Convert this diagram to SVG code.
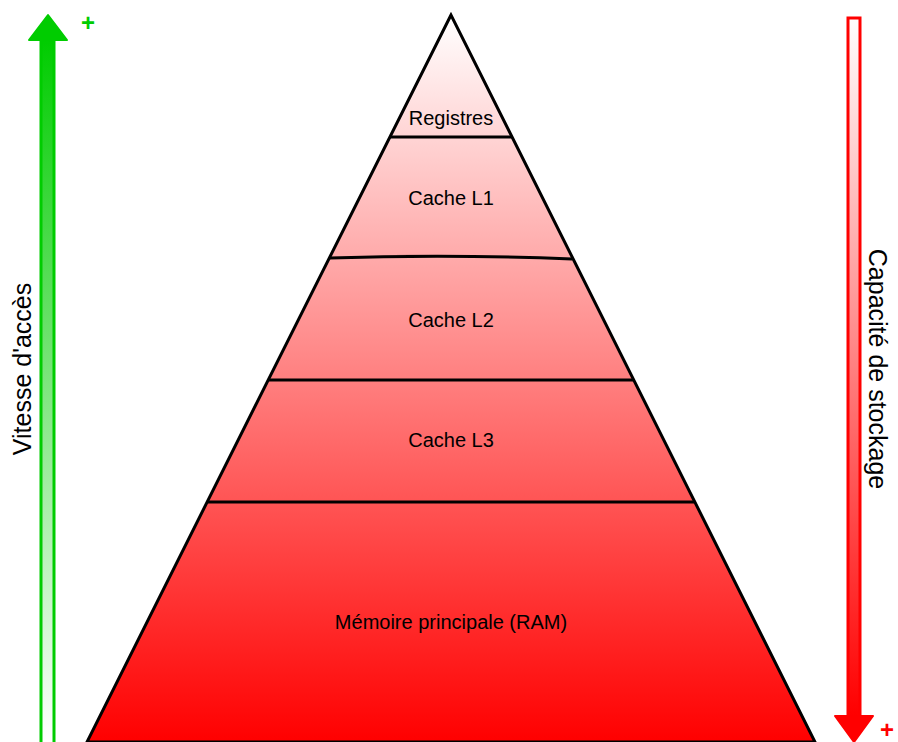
<svg xmlns="http://www.w3.org/2000/svg" width="898" height="742" viewBox="0 0 898 742">
<defs>
<linearGradient id="pyr" gradientUnits="userSpaceOnUse" x1="0" y1="15" x2="0" y2="742">
<stop offset="0" stop-color="#ffffff"/>
<stop offset="1" stop-color="#ff0000"/>
</linearGradient>
<linearGradient id="green" gradientUnits="userSpaceOnUse" x1="0" y1="40" x2="0" y2="742">
<stop offset="0" stop-color="#00cc00"/>
<stop offset="1" stop-color="#ffffff"/>
</linearGradient>
<linearGradient id="red" gradientUnits="userSpaceOnUse" x1="0" y1="17" x2="0" y2="715">
<stop offset="0" stop-color="#ffffff"/>
<stop offset="1" stop-color="#ff0000"/>
</linearGradient>
</defs>
<style>
.lbl{font-family:"Liberation Sans",Arial,sans-serif;font-size:20px;fill:#000;text-anchor:middle;dominant-baseline:central}
.side{font-family:"Liberation Sans",Arial,sans-serif;font-size:25px;fill:#000;text-anchor:middle;dominant-baseline:central}
.plus{font-family:"Liberation Sans",Arial,sans-serif;font-size:24px;font-weight:bold;text-anchor:middle}
.sep{stroke:#000;stroke-width:3;fill:none}
</style>
<g id="pyramid">
<polygon points="451,15 87,742 815,742" fill="url(#pyr)" stroke="#000" stroke-width="3" stroke-linejoin="miter"/>
</g>
<g id="connectors">
<line class="sep" x1="390" y1="137" x2="512" y2="137"/>
<path class="sep" d="M330,258 Q450,254 572,259"/>
<line class="sep" x1="269" y1="380" x2="633" y2="380"/>
<line class="sep" x1="208" y1="502" x2="694" y2="502"/>
</g>
<g id="registres"><text class="lbl" x="451" y="118">Registres</text></g>
<g id="cache-l1"><text class="lbl" x="451" y="198">Cache L1</text></g>
<g id="cache-l2"><text class="lbl" x="451" y="320">Cache L2</text></g>
<g id="cache-l3"><text class="lbl" x="451" y="440">Cache L3</text></g>
<g id="ram"><text class="lbl" x="451" y="622">Mémoire principale (RAM)</text></g>
<g id="speed-arrow">
<rect x="41" y="39" width="13" height="705" fill="url(#green)" stroke="#00cc00" stroke-width="3"/>
<polygon points="48,15 67,40 29,40" fill="#00cc00" stroke="#00cc00" stroke-width="2" stroke-linejoin="round"/>
<text class="plus" x="88" y="31" fill="#00cc00">+</text>
<text class="side" transform="translate(22,369) rotate(-90)">Vitesse d'accès</text>
</g>
<g id="capacity-arrow">
<rect x="848" y="18" width="12" height="699" fill="url(#red)" stroke="#ff0000" stroke-width="3"/>
<polygon points="854,742 873,716 835,716" fill="#ff0000" stroke="#ff0000" stroke-width="2" stroke-linejoin="round"/>
<text class="plus" x="887" y="738" fill="#ff0000">+</text>
<text class="side" transform="translate(878,369) rotate(90)">Capacité de stockage</text>
</g>
</svg>
